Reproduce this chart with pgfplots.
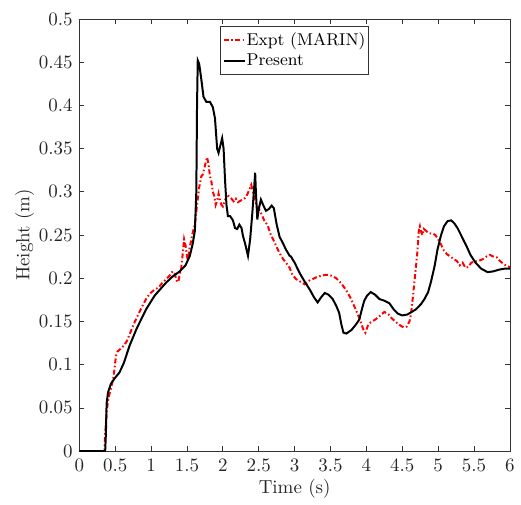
\documentclass[border=0pt]{standalone}
\usepackage{pgfplots}
\pgfplotsset{compat=1.18}
\begin{document}
\begin{tikzpicture}
\begin{axis}[
  scale only axis,
  width=227.1pt, height=227.9pt,
  xmin=0, xmax=6, ymin=0, ymax=0.5,
  xtick={0,0.5,...,6},
  ytick={0,0.05,0.1,0.15,0.2,0.25,0.3,0.35,0.4,0.45,0.5},
  yticklabels={0,0.05,0.1,0.15,0.2,0.25,0.3,0.35,0.4,0.45,0.5},
  xticklabels={0,0.5,1,1.5,2,2.5,3,3.5,4,4.5,5,5.5,6},
  tick align=inside,
  major tick length=2.6pt,
  axis line style={black!80, line width=0.4pt},
  every tick/.style={black!80, line width=0.4pt},
  font=\fontsize{10}{12}\selectfont,
  tick label style={font=\fontsize{10}{12}\selectfont, black!85},
  xticklabel style={yshift=-0.5pt},
  xlabel={Time (s)},
  ylabel={Height (m)},
  xlabel style={at={(axis description cs:0.5,-0.088)}, anchor=center, black!85},
  ylabel style={at={(axis description cs:-0.127,0.5)}, anchor=center, black!85},
  legend style={at={(0.5,0.983)}, anchor=north, draw=black!80, line width=0.4pt, inner xsep=1.2pt, inner ysep=1.5pt, font=\fontsize{9}{10.5}\selectfont, row sep=0pt, column sep=0pt, nodes={inner xsep=0.4pt, inner ysep=1.5pt}},
  legend cell align=left,
  legend image code/.code={\draw[#1] (0pt,0pt) -- (11pt,0pt);},
]
\addplot[red, line width=1.05pt, dash pattern=on 2.6pt off 1.3pt on 0.8pt off 1.3pt] coordinates {
(0,0) (0.35,0) (0.36,0.02) (0.38,0.045) (0.40,0.058) (0.42,0.066) (0.45,0.076) (0.47,0.083) (0.49,0.095) (0.51,0.110) (0.53,0.115) (0.57,0.118) (0.62,0.122) (0.66,0.127) (0.71,0.137) (0.77,0.149) (0.82,0.158) (0.88,0.168) (0.93,0.176) (0.98,0.182) (1.05,0.187) (1.10,0.189) (1.15,0.194) (1.21,0.199) (1.26,0.203) (1.30,0.208) (1.33,0.205) (1.36,0.196) (1.38,0.196) (1.40,0.205) (1.42,0.212) (1.44,0.228) (1.46,0.245) (1.48,0.238) (1.51,0.220) (1.53,0.232) (1.56,0.245) (1.58,0.253) (1.61,0.262) (1.64,0.285) (1.67,0.305) (1.70,0.318) (1.72,0.320) (1.75,0.330) (1.78,0.340) (1.80,0.332) (1.82,0.318) (1.84,0.312) (1.86,0.300) (1.88,0.295) (1.90,0.285) (1.92,0.290) (1.94,0.298) (1.96,0.290) (1.98,0.285) (2.00,0.283) (2.03,0.290) (2.06,0.297) (2.09,0.294) (2.12,0.292) (2.15,0.289) (2.18,0.292) (2.21,0.288) (2.25,0.290) (2.28,0.291) (2.31,0.293) (2.34,0.297) (2.37,0.303) (2.395,0.308) (2.42,0.300) (2.44,0.291) (2.47,0.285) (2.51,0.279) (2.55,0.272) (2.58,0.266) (2.62,0.262) (2.66,0.252) (2.70,0.245) (2.75,0.236) (2.79,0.229) (2.84,0.222) (2.88,0.218) (2.93,0.212) (2.97,0.204) (3.02,0.199) (3.08,0.196) (3.14,0.193) (3.20,0.197) (3.25,0.199) (3.30,0.201) (3.37,0.203) (3.44,0.204) (3.51,0.203) (3.58,0.200) (3.65,0.194) (3.72,0.186) (3.78,0.177) (3.85,0.164) (3.91,0.152) (3.96,0.140) (3.985,0.137) (4.02,0.145) (4.06,0.149) (4.12,0.152) (4.18,0.156) (4.25,0.161) (4.31,0.158) (4.35,0.154) (4.40,0.150) (4.46,0.146) (4.52,0.143) (4.56,0.144) (4.60,0.150) (4.62,0.158) (4.65,0.180) (4.68,0.205) (4.71,0.230) (4.73,0.255) (4.745,0.260) (4.76,0.254) (4.78,0.250) (4.80,0.257) (4.83,0.255) (4.87,0.252) (4.92,0.252) (4.96,0.250) (5.00,0.245) (5.04,0.239) (5.08,0.232) (5.12,0.228) (5.17,0.225) (5.22,0.222) (5.26,0.220) (5.30,0.215) (5.34,0.218) (5.38,0.212) (5.42,0.213) (5.46,0.218) (5.50,0.219) (5.56,0.220) (5.62,0.222) (5.67,0.225) (5.72,0.227) (5.77,0.225) (5.82,0.224) (5.86,0.220) (5.92,0.216) (5.96,0.214) (6.00,0.213)
};
\addlegendentry{Expt (MARIN)}
\addplot[black, line width=1.05pt] coordinates {
(0,0) (0.36,0) (0.37,0.02) (0.38,0.055) (0.40,0.068) (0.44,0.078) (0.50,0.085) (0.56,0.091) (0.62,0.102) (0.70,0.122) (0.80,0.142) (0.93,0.164) (1.05,0.180) (1.21,0.195) (1.30,0.202) (1.40,0.208) (1.48,0.215) (1.54,0.226) (1.58,0.240) (1.61,0.255) (1.63,0.300) (1.64,0.400) (1.65,0.452) (1.67,0.448) (1.70,0.430) (1.73,0.410) (1.77,0.404) (1.82,0.404) (1.86,0.398) (1.89,0.385) (1.92,0.350) (1.94,0.345) (1.96,0.352) (1.99,0.362) (2.01,0.350) (2.03,0.314) (2.05,0.285) (2.07,0.272) (2.10,0.272) (2.14,0.267) (2.17,0.258) (2.20,0.257) (2.23,0.262) (2.26,0.258) (2.28,0.249) (2.31,0.240) (2.35,0.226) (2.38,0.245) (2.41,0.275) (2.44,0.310) (2.45,0.322) (2.46,0.300) (2.48,0.268) (2.50,0.280) (2.53,0.291) (2.56,0.285) (2.60,0.278) (2.64,0.280) (2.68,0.284) (2.71,0.281) (2.75,0.262) (2.79,0.248) (2.84,0.240) (2.88,0.233) (2.93,0.226) (2.95,0.225) (2.97,0.222) (3.00,0.218) (3.07,0.206) (3.14,0.196) (3.21,0.187) (3.27,0.178) (3.32,0.172) (3.37,0.178) (3.42,0.183) (3.47,0.181) (3.53,0.176) (3.58,0.168) (3.62,0.160) (3.65,0.147) (3.68,0.137) (3.72,0.136) (3.79,0.140) (3.85,0.146) (3.90,0.152) (3.94,0.165) (3.97,0.174) (4.01,0.180) (4.06,0.184) (4.12,0.181) (4.18,0.176) (4.25,0.174) (4.32,0.171) (4.38,0.164) (4.44,0.159) (4.50,0.157) (4.57,0.158) (4.63,0.161) (4.69,0.164) (4.76,0.170) (4.81,0.176) (4.86,0.184) (4.90,0.196) (4.95,0.214) (4.99,0.233) (5.04,0.250) (5.08,0.260) (5.13,0.266) (5.18,0.267) (5.22,0.264) (5.27,0.258) (5.33,0.248) (5.39,0.238) (5.45,0.227) (5.52,0.218) (5.60,0.211) (5.69,0.207) (5.77,0.208) (5.85,0.210) (5.92,0.211) (6.00,0.211)
};
\addlegendentry{Present}
\end{axis}
\path ([xshift=-41.84pt,yshift=-27.37pt]current axis.south west) rectangle ([xshift=5.26pt,yshift=10pt]current axis.north east);
\end{tikzpicture}
\end{document}
